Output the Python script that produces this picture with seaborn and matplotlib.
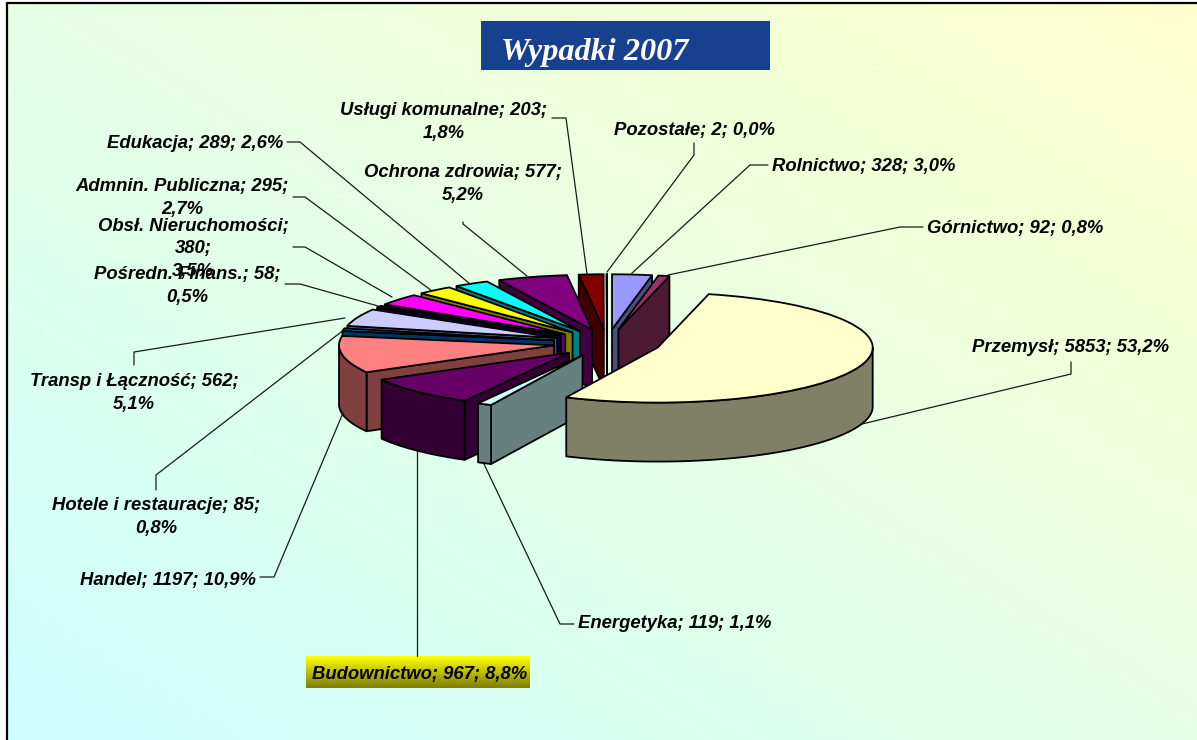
import numpy as np
import matplotlib
matplotlib.use("Agg")
import matplotlib.pyplot as plt
from matplotlib.patches import Polygon, Rectangle
from matplotlib.colors import LinearSegmentedColormap
import seaborn as sns

# data, clockwise from 12 o'clock
categories = ["Rolnictwo", "Górnictwo", "Przemysł", "Energetyka", "Budownictwo", "Handel",
              "Hotele i restauracje", "Transp i Łączność", "Pośredn. Finans.", "Obsł. Nieruchomości",
              "Admnin. Publiczna", "Edukacja", "Ochrona zdrowia", "Usługi komunalne", "Pozostałe"]
values = [328, 92, 5853, 119, 967, 1197, 85, 562, 58, 380, 295, 289, 577, 203, 2]
slice_colors = ["#9999FF", "#993366", "#FFFFCC", "#CCFFFF", "#660066", "#FF8080", "#0066CC", "#CCCCFF",
                "#000080", "#FF00FF", "#FFFF00", "#00FFFF", "#800080", "#800000", "#FFFFFF"]
# how each label is wrapped: separator after the name, after the value
label_seps = [(" ", " "), (" ", " "), (" ", " "), (" ", " "), (" ", " "), (" ", " "),
              (" ", "\n"), (" ", "\n"), (" ", "\n"), ("\n", "\n"),
              (" ", "\n"), (" ", " "), (" ", "\n"), (" ", "\n"), (" ", " ")]
title_text = "Wypadki 2007"

# layout, in pixels of the picture
W, H = 1197, 740
CX, CY = 607, 343
RX, RY = 215, 55
DEPTH = 59
label_pos = [(864, 166), (1015, 228), (1071, 347), (675, 624), (420, 674), (168, 580),
             (156, 517), (134, 393), (187, 286), (193, 249), (182, 198), (195, 144),
             (463, 184), (444, 122), (694, 130)]
leaders = [[(768, 165), (750, 165), (631, 274)], [(923, 227), (900, 227), (668, 275)],
           [(1071, 362), (1071, 374), (862, 424)], [(574, 624), (560, 624), (484, 464)],
           [(417, 656), (417, 450)], [(260, 577), (274, 577), (343, 413)],
           [(156, 490), (156, 475), (345, 329)], [(134, 365), (134, 352), (345, 318)],
           [(285, 284), (300, 284), (378, 306)], [(293, 247), (305, 247), (392, 297)],
           [(293, 197), (305, 197), (432, 291)], [(287, 142), (300, 142), (470, 284)],
           [(463, 222), (463, 224), (527, 276)], [(552, 118), (566, 118), (587, 274)],
           [(694, 143), (694, 155), (607, 272)]]
# back to front
draw_order = [14, 13, 0, 1, 12, 11, 10, 9, 8, 7, 6, 5, 4, 3, 2]

sns.set_theme(style="white")
plt.rcParams["font.family"] = ["Liberation Sans", "DejaVu Sans"]

total = sum(values)
labels = []
for name, v, seps in zip(categories, values, label_seps):
    pct = f"{100 * v / total:.1f}%".replace(".", ",")
    labels.append(f"{name};{seps[0]}{v};{seps[1]}{pct}")

fig = plt.figure(figsize=(W / 100, H / 100), dpi=100, facecolor="white")

# background gradient and frame
ax_bg = fig.add_axes([0, 0, 1, 1], zorder=0)
xx, yy = np.meshgrid(np.linspace(0, 1, 300), np.linspace(0, 1, 200))
bg_cmap = LinearSegmentedColormap.from_list("bg", ["#FFFFCC", "#CCFFFF"])
ax_bg.imshow((xx * -1 + 1 + yy) / 2, cmap=bg_cmap, vmin=0, vmax=1, aspect="auto", extent=(7, W, H, 3))
ax_bg.plot([7, 7, W], [H, 3, 3], color="black", lw=1.6)
ax_bg.set_xlim(0, W)
ax_bg.set_ylim(H, 0)
ax_bg.axis("off")

# pie: unit radius is RX pixels across and RY pixels down
ax = fig.add_axes([0, 0, 1, 1], zorder=1)
palette = sns.color_palette(slice_colors)
wedges, _ = ax.pie(values, colors=palette, startangle=90, counterclock=False, explode=[0.25] * len(values),
                   wedgeprops={"edgecolor": "black", "linewidth": 1.3})
ax.set_aspect("auto")
ax.set_xlim(-CX / RX, (W - CX) / RX)
ax.set_ylim(-(H - CY) / RY, CY / RY)
ax.axis("off")

depth = DEPTH / RY
for layer, i in enumerate(draw_order):
    w = wedges[i]
    cx, cy = w.center
    wall_color = tuple(c * 0.5 for c in palette[i])
    style = dict(facecolor=wall_color, edgecolor="black", linewidth=1.3, joinstyle="round", zorder=10 + layer)
    # flat cut faces that look towards the viewer
    for a, show in ((w.theta1, np.cos(np.radians(w.theta1)) > 0), (w.theta2, np.cos(np.radians(w.theta2)) < 0)):
        if show:
            ox = cx + w.r * np.cos(np.radians(a))
            oy = cy + w.r * np.sin(np.radians(a))
            ax.add_patch(Polygon([(cx, cy), (ox, oy), (ox, oy - depth), (cx, cy - depth)], **style))
    # rim
    angles = np.radians(np.linspace(w.theta1, w.theta2, 721))
    angles = angles[np.sin(angles) <= 0]
    if len(angles) > 1:
        rim_x = cx + w.r * np.cos(angles)
        rim_y = cy + w.r * np.sin(angles)
        pts = np.vstack([np.column_stack([rim_x, rim_y]), np.column_stack([rim_x, rim_y - depth])[::-1]])
        ax.add_patch(Polygon(pts, **style))
    w.set_zorder(10 + layer + 0.5)

# title, labels and leader lines in pixel coordinates
ax_top = fig.add_axes([0, 0, 1, 1], zorder=2)
ax_top.patch.set_alpha(0)
ax_top.add_patch(Rectangle((481, 21), 289, 49, facecolor="#17408F", edgecolor="none"))
title = ax_top.text(501, 60, title_text, color="white", fontsize=23.2, fontweight="bold", fontstyle="italic",
                    family="Liberation Serif", ha="left", va="baseline")
title.set_clip_path(Rectangle((481, 21), 289, 40, transform=ax_top.transData))

fade = LinearSegmentedColormap.from_list("fade", ["#FFFF00", "#807F00"])
ax_top.imshow(np.linspace(0, 1, 32).reshape(-1, 1), cmap=fade, aspect="auto", extent=(306, 530, 688, 656), zorder=1)

for line in leaders:
    xs, ys = zip(*line)
    ax_top.plot(xs, ys, color="#1a1a1a", lw=0.9, zorder=2)

for text, (x, y) in zip(labels, label_pos):
    ax_top.text(x, y, text, ha="center", va="center", ma="center", fontsize=13.3, fontweight="bold",
                fontstyle="italic", color="black", linespacing=1.4, zorder=3)

ax_top.set_xlim(0, W)
ax_top.set_ylim(H, 0)
ax_top.axis("off")

fig.savefig("out.png", dpi=100)
